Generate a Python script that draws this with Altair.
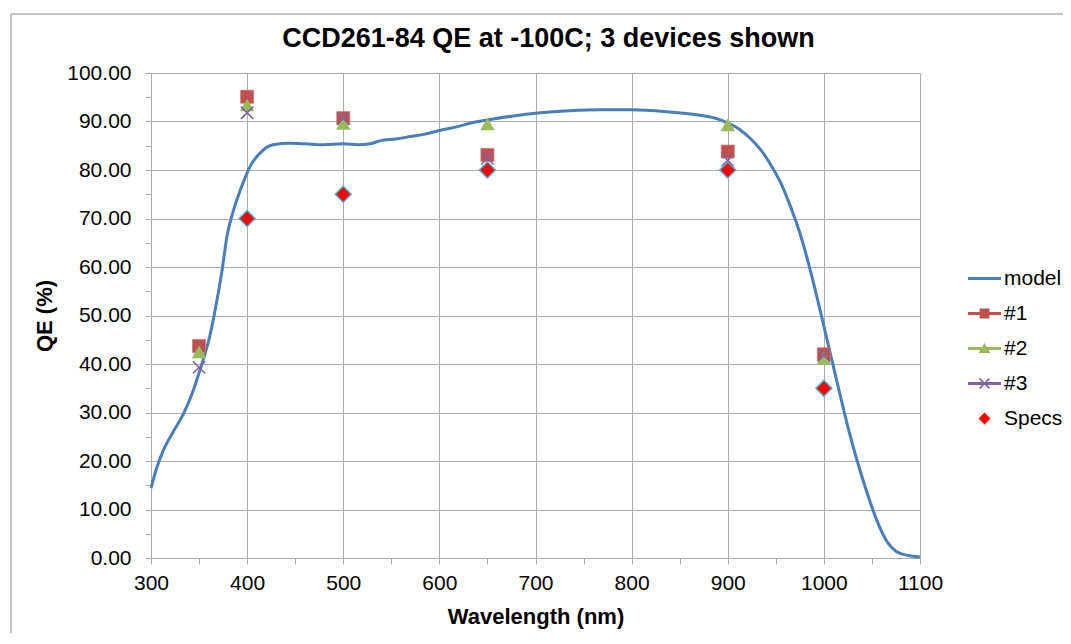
import altair as alt
import pandas as pd

# ---------------- data ----------------
model_wavelength = [300, 305, 313, 323, 334, 343, 351, 356, 361, 368, 374, 379, 386, 393,
                    403, 413, 427, 445, 460, 480, 500, 515, 528, 538, 555, 570, 585, 601,
                    620, 635, 650, 675, 705, 735, 767, 800, 837, 871, 890, 901, 912, 923,
                    935, 945, 955, 965, 975, 985, 995, 1005, 1015, 1025, 1035, 1045, 1055,
                    1065, 1075, 1088, 1100]
model_qe = [14.4, 18.0, 22.3, 26.0, 29.8, 34.0, 38.8, 42.0, 45.6, 52.5, 59.4, 66.3, 71.8, 75.9,
            80.7, 83.4, 85.2, 85.5, 85.4, 85.2, 85.4, 85.2, 85.4, 86.0, 86.4, 86.9, 87.4, 88.2,
            89.0, 89.8, 90.3, 91.1, 91.8, 92.2, 92.4, 92.4, 92.0, 91.3, 90.5, 89.6, 88.4, 86.6,
            84.0, 81.0, 77.4, 72.6, 67.0, 60.0, 52.0, 43.6, 35.2, 27.0, 19.8, 13.4, 7.8,
            3.6, 1.4, 0.5, 0.2]

device_wavelength = [350, 400, 500, 650, 900, 1000]
device1_qe = [43.7, 95.1, 90.7, 83.1, 83.8, 42.0]
device2_qe = [42.5, 93.4, 89.6, 89.5, 89.3, 41.2]
device3_qe = [39.3, 91.8, 90.6, 82.4, 82.0, 41.8]

specs_wavelength = [400, 500, 650, 900, 1000]
specs_qe = [70.0, 75.0, 80.0, 80.0, 35.0]

series_names = ["model", "#1", "#2", "#3", "Specs"]
series_colors = ["#4A7EBB", "#C0504D", "#9BBB59", "#8064A2", "#FF0000"]

x_ticks = list(range(300, 1101, 50))
y_ticks = list(range(0, 101, 5))

# ---------------- tables ----------------
model_df = pd.DataFrame({"wavelength": model_wavelength, "qe": model_qe})
dev_df = {
    "#1": pd.DataFrame({"wavelength": device_wavelength, "qe": device1_qe}),
    "#2": pd.DataFrame({"wavelength": device_wavelength, "qe": device2_qe}),
    "#3": pd.DataFrame({"wavelength": device_wavelength, "qe": device3_qe}),
}
specs_df = pd.DataFrame({"wavelength": specs_wavelength, "qe": specs_qe})
legend_df = pd.DataFrame({"series": series_names, "wavelength": [300] * 5, "qe": [0.0] * 5})
frame_df = pd.DataFrame({"a": [0]})

FONT = "Liberation Sans"
W, H = 769, 485
GRID = "#ADADAD"

x_scale = alt.Scale(domain=[300, 1100], nice=False)
y_scale = alt.Scale(domain=[0, 100], nice=False)

x_axis = alt.Axis(
    values=x_ticks, title="Wavelength (nm)",
    labelExpr="datum.value % 100 == 0 ? format(datum.value, 'd') : ''",
    labelOverlap=False, labelFlush=False, labelPadding=8,
    gridOpacity={"condition": {"test": "datum.value % 100 != 0", "value": 0}, "value": 1},
    titleY=58, titleBaseline="middle",
)
y_axis = alt.Axis(
    values=y_ticks, title="QE (%)",
    labelExpr="datum.value % 10 == 0 ? format(datum.value, '.2f') : ''",
    labelOverlap=False, labelFlush=False, labelPadding=14,
    gridOpacity={"condition": {"test": "datum.value % 10 != 0", "value": 0}, "value": 1},
    titleX=-107, titleBaseline="middle",
)

X = alt.X("wavelength:Q", scale=x_scale, axis=x_axis)
Y = alt.Y("qe:Q", scale=y_scale, axis=y_axis)

# chart frame (only the top and left edges are inside the picture)
frame_top = alt.Chart(frame_df).mark_rule(color="#8C8C8C", strokeWidth=1).encode(
    x=alt.value(-140), x2=alt.value(W + 143), y=alt.value(-59))
frame_left = alt.Chart(frame_df).mark_rule(color="#8C8C8C", strokeWidth=1).encode(
    x=alt.value(-140), y=alt.value(-59), y2=alt.value(H + 75))

model_line = alt.Chart(model_df).mark_line(
    color=series_colors[0], strokeWidth=3, interpolate="monotone").encode(x=X, y=Y)

dev1 = alt.Chart(dev_df["#1"]).mark_point(
    shape="square", filled=True, size=170, color=series_colors[1], opacity=1,
    stroke="#D07A77", strokeWidth=0.8).encode(x=X, y=Y)
dev2 = alt.Chart(dev_df["#2"]).mark_point(
    shape="triangle-up", filled=True, size=210, color=series_colors[2], opacity=1,
    strokeWidth=0).encode(x=X, y=Y)
dev3 = alt.Chart(dev_df["#3"]).mark_point(
    shape="M-1,-1L1,1M-1,1L1,-1", filled=False, size=150, color=series_colors[3],
    opacity=1, strokeWidth=1.6).encode(x=X, y=Y)
specs = alt.Chart(specs_df).mark_point(
    shape="diamond", filled=True, size=250, fill=series_colors[4], opacity=1,
    stroke="#4BACC6", strokeWidth=1.5).encode(x=X, y=Y)

LINE = "M-1,-0.09H1V0.09H-1Z"
legend_shapes = [
    LINE,
    LINE + "M-0.3,-0.3H0.3V0.3H-0.3Z",
    LINE + "M-0.36,0.27L0,-0.33L0.36,0.27Z",
    LINE + "M-0.265,-0.335L0.335,0.265L0.265,0.335L-0.335,-0.265Z"
           "M-0.335,0.265L0.265,-0.335L0.335,-0.265L-0.265,0.335Z",
    "M-0.36,0L0,-0.36L0.36,0L0,0.36Z",
]

legend_layer = alt.Chart(legend_df).mark_point(filled=True, opacity=1).encode(
    x=X, y=Y,
    color=alt.Color("series:N", scale=alt.Scale(domain=series_names, range=series_colors),
                    legend=alt.Legend(title=None, orient="none", legendX=817, legendY=189,
                                      symbolSize=1089, symbolStrokeWidth=0,
                                      labelFontSize=21, labelFont=FONT, labelColor="#000000",
                                      labelOffset=3, rowPadding=8, padding=0)),
    shape=alt.Shape("series:N", scale=alt.Scale(domain=series_names, range=legend_shapes)),
).transform_filter("false")

chart = alt.layer(
    frame_top, frame_left, model_line, dev1, dev2, dev3, specs, legend_layer
).properties(
    width=W, height=H,
    autosize=alt.AutoSizeParams(type="none"),
    padding={"left": 143, "top": 65, "right": 143, "bottom": 75},
    title=alt.TitleParams("CCD261-84 QE at -100C; 3 devices shown", font=FONT, fontSize=27,
                          fontWeight="bold", color="#000000", anchor="middle", dx=13,
                          dy=86.5, baseline="alphabetic", offset=26),
).configure_view(stroke=None).configure_axis(
    labelFont=FONT, labelFontSize=21, labelColor="#000000",
    titleFont=FONT, titleFontSize=22, titleFontWeight="bold", titleColor="#000000",
    gridColor=GRID, gridWidth=1, domainColor=GRID, domainWidth=1,
    tickColor=GRID, tickWidth=1, tickSize=6,
)

chart.save("out.html", embed_options={"renderer": "svg", "actions": False})
